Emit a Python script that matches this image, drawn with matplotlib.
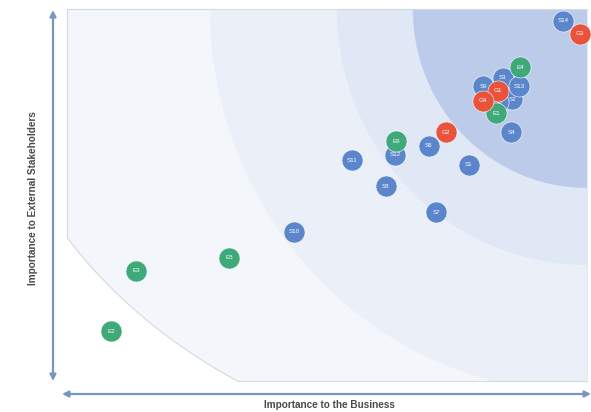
import matplotlib
matplotlib.use('Agg')
import matplotlib.pyplot as plt
from matplotlib.patches import Ellipse, FancyArrowPatch

# issue codes, importance to business (x) / stakeholders (y), 0-100 scale
labels = ['S1', 'S2', 'S3', 'S4', 'S5', 'S6', 'S7', 'S8', 'S9', 'S10', 'S11', 'S12', 'S13', 'S14',
          'E1', 'E2', 'E3', 'E4', 'E5', 'E6',
          'G1', 'G2', 'G3', 'G4']
business = [77.3, 85.6, 83.8, 85.4, 82.9, 69.6, 71.0, 61.3, 80.0, 43.7, 54.8, 63.1, 86.9, 95.4,
            82.5, 8.5, 13.3, 87.1, 31.2, 63.3,
            82.9, 72.9, 98.7, 80.0]
stakeholders = [58.1, 75.8, 81.5, 66.9, 75.0, 63.2, 45.4, 52.4, 79.3, 40.1, 59.4, 60.8, 79.3, 96.8,
                72.0, 13.4, 29.6, 84.4, 33.1, 64.5,
                78.0, 66.9, 93.3, 75.3]
groups = ['S'] * 14 + ['E'] * 6 + ['G'] * 4

colors = {'S': '#5b86cc', 'E': '#3fa97a', 'G': '#e9533b'}

# concentric zones around the top-right corner (width, height in data units), outer first
zone_w = [230.8, 145.0, 96.2, 67.0]
zone_h = [246.2, 206.6, 137.6, 96.2]
zone_c = ['#f3f6fb', '#ebf0f8', '#e0e7f5', '#bccbe9']

fig = plt.figure(figsize=(5.91, 4.12), dpi=100)
ax = fig.add_axes([67 / 591, 31 / 412, 520 / 591, 372 / 412])
ax.set_xlim(0, 100)
ax.set_ylim(0, 100)

for w, h, c in zip(zone_w, zone_h, zone_c):
    ax.add_patch(Ellipse((100, 100), w, h, facecolor=c, edgecolor='none', zorder=1))
ax.add_patch(Ellipse((100, 100), zone_w[0], zone_h[0], facecolor='none',
                     edgecolor='#d5d9e0', lw=0.8, zorder=2))

for s in ['left', 'top', 'bottom', 'right']:
    ax.spines[s].set_color('#d5d9e0')
    ax.spines[s].set_linewidth(0.8)
ax.spines['left'].set_bounds(38.6, 100)
ax.spines['bottom'].set_bounds(32.7, 100)
ax.spines['right'].set_color('#e4e8ee')
ax.set_xticks([])
ax.set_yticks([])

for i, lab in enumerate(labels):
    ax.scatter(business[i], stakeholders[i], s=230, color=colors[groups[i]],
               edgecolors='white', linewidths=0.4, zorder=3 + i, clip_on=False)
    ax.text(business[i], stakeholders[i], lab, color='white', fontsize=4.5,
            ha='center', va='center', zorder=3 + i, family='Liberation Sans')

# axis arrows
arrow = dict(arrowstyle='<|-|>', color='#7895c4', lw=1.6, mutation_scale=9, shrinkA=0, shrinkB=0)
fig.add_artist(FancyArrowPatch((53 / 591, 1 - 10 / 412), (53 / 591, 1 - 381 / 412),
                               transform=fig.transFigure, **arrow))
fig.add_artist(FancyArrowPatch((62 / 591, 1 - 394 / 412), (591 / 591, 1 - 394 / 412),
                               transform=fig.transFigure, **arrow))

fig.text(33 / 591, 1 - 198 / 412, 'Importance to External Stakeholders', rotation=90,
         ha='center', va='center', fontsize=7.2, fontweight='bold', color='#4a4a4a',
         family='Liberation Sans')
fig.text(329 / 591, 1 - 405 / 412, 'Importance to the Business', ha='center', va='center',
         fontsize=7.2, fontweight='bold', color='#4a4a4a', family='Liberation Sans')

fig.savefig('out.png', dpi=100, facecolor='white')
